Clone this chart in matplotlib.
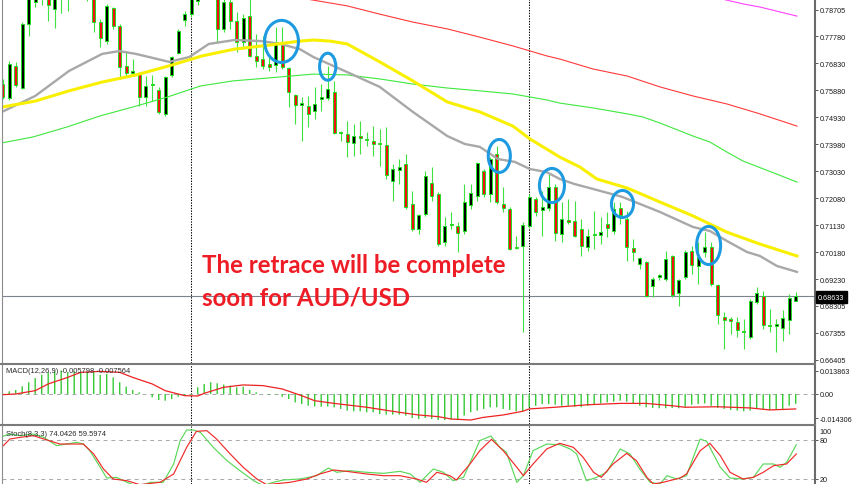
import numpy as np
import matplotlib
matplotlib.use('Agg')
import matplotlib.pyplot as plt
from matplotlib.patches import Ellipse
from matplotlib.lines import Line2D

plt.rcParams['font.family'] = ['Liberation Sans', 'DejaVu Sans']

# weekly AUD/USD candles, index 0 = first visible week
open_ = [0.7610, 0.7561, 0.7673, 0.7596, 0.7821, 0.7899, 0.7944, 0.7980, 0.7874, 0.7944,
         0.7927, 0.7962, 0.7997, 0.7944, 0.7927, 0.7828, 0.7761, 0.7878, 0.7814, 0.7673,
         0.7649, 0.7645, 0.7564, 0.7610, 0.7589, 0.7505, 0.7642, 0.7719, 0.7835, 0.7856,
         0.7902, 0.7997, 0.8068, 0.7927, 0.7804, 0.7899, 0.7832, 0.7758, 0.7849, 0.7709,
         0.7698, 0.7681, 0.7677, 0.7758, 0.7666, 0.7571, 0.7536, 0.7533, 0.7515, 0.7557,
         0.7561, 0.7582, 0.7437, 0.7434, 0.7403, 0.7427, 0.7417, 0.7410, 0.7403, 0.7396,
         0.7269, 0.7308, 0.7329, 0.7188, 0.7100, 0.7153, 0.7262, 0.7223, 0.7054, 0.7114,
         0.7110, 0.7093, 0.7184, 0.7216, 0.7304, 0.7223, 0.7364, 0.7188, 0.7170, 0.7037,
         0.7040, 0.7110, 0.7205, 0.7167, 0.7174, 0.7248, 0.7082, 0.7132, 0.7128, 0.7100,
         0.7037, 0.7079, 0.7079, 0.7118, 0.7093, 0.7174, 0.7135, 0.7033, 0.6977, 0.6984,
         0.6899, 0.6931, 0.6924, 0.7005, 0.6875, 0.6931, 0.7023, 0.6970, 0.7019, 0.7037,
         0.6903, 0.6790, 0.6783, 0.6773, 0.6738, 0.6720, 0.6843, 0.6864, 0.6762, 0.6759,
         0.6752, 0.6780, 0.6847]
high = [0.7628, 0.7691, 0.7688, 0.7828, 0.7944, 0.7962, 0.8015, 0.7997, 0.7951, 0.7980,
        0.7997, 0.8015, 0.8032, 0.7980, 0.7937, 0.7839, 0.7892, 0.7881, 0.7821, 0.7726,
        0.7698, 0.7652, 0.7638, 0.7642, 0.7600, 0.7638, 0.7709, 0.7804, 0.7867, 0.7951,
        0.8015, 0.8103, 0.8120, 0.7937, 0.7916, 0.7909, 0.7864, 0.7856, 0.7916, 0.7786,
        0.7779, 0.7705, 0.7811, 0.7811, 0.7670, 0.7575, 0.7564, 0.7568, 0.7600, 0.7610,
        0.7673, 0.7621, 0.7445, 0.7480, 0.7469, 0.7480, 0.7441, 0.7462, 0.7452, 0.7459,
        0.7329, 0.7346, 0.7364, 0.7234, 0.7153, 0.7304, 0.7318, 0.7230, 0.7142, 0.7160,
        0.7125, 0.7258, 0.7258, 0.7336, 0.7311, 0.7353, 0.7392, 0.7248, 0.7177, 0.7075,
        0.7125, 0.7223, 0.7213, 0.7234, 0.7293, 0.7258, 0.7195, 0.7205, 0.7198, 0.7135,
        0.7100, 0.7163, 0.7142, 0.7160, 0.7195, 0.7195, 0.7163, 0.7065, 0.7001, 0.6987,
        0.6931, 0.6942, 0.7023, 0.7008, 0.6924, 0.7026, 0.7040, 0.7054, 0.7089, 0.7054,
        0.6906, 0.6808, 0.6790, 0.6790, 0.6783, 0.6854, 0.6896, 0.6882, 0.6818, 0.6783,
        0.6815, 0.6871, 0.6878]
low = [0.7557, 0.7554, 0.7600, 0.7593, 0.7779, 0.7881, 0.7888, 0.7832, 0.7807, 0.7860,
       0.7867, 0.7927, 0.7927, 0.7902, 0.7793, 0.7740, 0.7751, 0.7804, 0.7628, 0.7638,
       0.7638, 0.7533, 0.7533, 0.7550, 0.7505, 0.7498, 0.7635, 0.7716, 0.7814, 0.7846,
       0.7888, 0.7980, 0.7927, 0.7758, 0.7793, 0.7804, 0.7723, 0.7733, 0.7705, 0.7670,
       0.7663, 0.7656, 0.7652, 0.7663, 0.7529, 0.7469, 0.7410, 0.7459, 0.7487, 0.7515,
       0.7554, 0.7434, 0.7410, 0.7353, 0.7357, 0.7364, 0.7392, 0.7357, 0.7322, 0.7276,
       0.7198, 0.7258, 0.7170, 0.7093, 0.7082, 0.7146, 0.7198, 0.7040, 0.7040, 0.7100,
       0.7019, 0.7082, 0.7170, 0.7198, 0.7213, 0.7195, 0.7188, 0.7160, 0.7026, 0.7030,
       0.6738, 0.7103, 0.7146, 0.7075, 0.7163, 0.7058, 0.7054, 0.7118, 0.7072, 0.7005,
       0.7023, 0.7030, 0.7047, 0.7072, 0.7082, 0.7118, 0.6987, 0.6987, 0.6959, 0.6861,
       0.6861, 0.6920, 0.6917, 0.6861, 0.6829, 0.6924, 0.6942, 0.6906, 0.7001, 0.6899,
       0.6766, 0.6678, 0.6731, 0.6720, 0.6678, 0.6713, 0.6836, 0.6748, 0.6738, 0.6667,
       0.6706, 0.6731, 0.6847]
close = [0.7564, 0.7681, 0.7607, 0.7821, 0.7927, 0.7944, 0.7980, 0.7888, 0.7944, 0.7927,
         0.7962, 0.7997, 0.7944, 0.7927, 0.7828, 0.7772, 0.7885, 0.7814, 0.7670, 0.7649,
         0.7656, 0.7564, 0.7603, 0.7607, 0.7512, 0.7635, 0.7705, 0.7797, 0.7856, 0.7927,
         0.7997, 0.8068, 0.7937, 0.7804, 0.7899, 0.7832, 0.7758, 0.7842, 0.7709, 0.7691,
         0.7673, 0.7670, 0.7758, 0.7670, 0.7582, 0.7536, 0.7543, 0.7505, 0.7540, 0.7564,
         0.7593, 0.7437, 0.7441, 0.7406, 0.7427, 0.7420, 0.7413, 0.7399, 0.7399, 0.7290,
         0.7311, 0.7318, 0.7177, 0.7100, 0.7149, 0.7286, 0.7216, 0.7047, 0.7110, 0.7118,
         0.7086, 0.7195, 0.7227, 0.7332, 0.7223, 0.7346, 0.7195, 0.7174, 0.7030, 0.7033,
         0.7114, 0.7213, 0.7160, 0.7177, 0.7248, 0.7086, 0.7135, 0.7125, 0.7075, 0.7040,
         0.7075, 0.7082, 0.7089, 0.7103, 0.7170, 0.7149, 0.7037, 0.7019, 0.6998, 0.6864,
         0.6924, 0.6938, 0.6994, 0.6868, 0.6920, 0.7019, 0.6973, 0.7001, 0.7037, 0.6906,
         0.6797, 0.6780, 0.6776, 0.6745, 0.6741, 0.6847, 0.6875, 0.6762, 0.6759, 0.6766,
         0.6787, 0.6857, 0.6863]

# moving averages, read at a few candle positions
gray_x = [-0.1, 5.0, 10.2, 15.3, 17.9, 20.5, 25.6, 28.7, 31.7, 35.7, 39.9, 42.7, 45.7, 47.8,
          53.0, 58.0, 63.1, 68.4, 71.1, 73.4, 76.2, 78.8, 81.1, 83.7, 85.7, 88.0, 90.8, 95.3,
          101.1, 106.2, 108.8, 111.4, 114.5, 116.5, 119.1, 122.2]
gray_ma = [0.7512, 0.7568, 0.7656, 0.7716, 0.7726, 0.7716, 0.7688, 0.7705, 0.7751, 0.7765,
           0.7761, 0.7751, 0.7733, 0.7705, 0.7652, 0.7600, 0.7512, 0.7427, 0.7399, 0.7389,
           0.7346, 0.7336, 0.7311, 0.7300, 0.7276, 0.7258, 0.7241, 0.7213, 0.7160, 0.7107,
           0.7093, 0.7058, 0.7019, 0.7005, 0.6970, 0.6949]
yel_x = [-0.1, 5.0, 10.2, 15.3, 20.5, 25.6, 30.7, 35.7, 41.0, 45.7, 47.8, 50.4, 53.0, 58.0,
         63.1, 68.4, 73.4, 78.5, 81.1, 83.7, 85.7, 88.8, 91.4, 96.1, 101.1, 106.2, 111.4,
         116.5, 122.2]
yel_ma = [0.7529, 0.7550, 0.7586, 0.7617, 0.7642, 0.7674, 0.7709, 0.7733, 0.7747, 0.7761,
          0.7765, 0.7761, 0.7751, 0.7688, 0.7621, 0.7547, 0.7512, 0.7462, 0.7417, 0.7381,
          0.7353, 0.7318, 0.7276, 0.7244, 0.7195, 0.7146, 0.7089, 0.7047, 0.7005]
grn_x = [-0.1, 4.7, 9.9, 15.0, 20.0, 25.3, 30.4, 35.4, 40.7, 44.2, 47.8, 53.0, 58.0, 63.1,
         68.4, 73.4, 78.5, 83.7, 85.7, 90.8, 96.1, 98.5, 101.1, 106.2, 108.8, 111.4, 113.9,
         119.1, 122.2]
grn_ma = [0.7403, 0.7424, 0.7459, 0.7498, 0.7529, 0.7564, 0.7603, 0.7621, 0.7631, 0.7638,
          0.7645, 0.7642, 0.7628, 0.7610, 0.7596, 0.7586, 0.7575, 0.7554, 0.7543, 0.7526,
          0.7505, 0.7494, 0.7473, 0.7427, 0.7406, 0.7371, 0.7339, 0.7293, 0.7265]
red_x = [44.0, 46.8, 53.0, 58.0, 63.1, 68.4, 73.4, 78.5, 83.7, 85.7, 90.8, 96.1, 101.1,
         106.2, 111.4, 116.5, 122.2]
red_ma = [0.7921, 0.7909, 0.7885, 0.7856, 0.7828, 0.7804, 0.7775, 0.7744, 0.7709, 0.7698,
          0.7663, 0.7638, 0.7600, 0.7568, 0.7540, 0.7505, 0.7462]
mag_x = [108.8, 110.7, 113.9, 116.5, 122.2]
mag_ma = [0.7920, 0.7909, 0.7892, 0.7881, 0.7849]

# MACD(12,26,9)
macd_hist = [0.0004, 0.0016, 0.0024, 0.0046, 0.0070, 0.0095, 0.0115, 0.0127, 0.0135, 0.0139,
             0.0129, 0.0135, 0.0131, 0.0133, 0.0129, 0.0115, 0.0119, 0.0099, 0.0070, 0.0044,
             0.0024, 0.0010, 0.0000, -0.0020, -0.0036, -0.0040, -0.0030, -0.0016, -0.0010, -0.0004,
             0.0040, 0.0060, 0.0070, 0.0064, 0.0056, 0.0050, 0.0040, 0.0044, 0.0024, 0.0010,
             0.0000, -0.0004, -0.0004, -0.0016, -0.0030, -0.0050, -0.0060, -0.0070, -0.0074, -0.0076,
             -0.0074, -0.0080, -0.0089, -0.0099, -0.0103, -0.0103, -0.0109, -0.0109, -0.0119, -0.0123,
             -0.0123, -0.0123, -0.0129, -0.0143, -0.0149, -0.0143, -0.0149, -0.0155, -0.0155, -0.0151,
             -0.0149, -0.0129, -0.0109, -0.0099, -0.0089, -0.0079, -0.0079, -0.0089, -0.0095, -0.0103,
             -0.0103, -0.0079, -0.0070, -0.0060, -0.0060, -0.0064, -0.0070, -0.0070, -0.0076, -0.0079,
             -0.0070, -0.0060, -0.0056, -0.0050, -0.0046, -0.0040, -0.0046, -0.0056, -0.0070, -0.0079,
             -0.0083, -0.0085, -0.0085, -0.0083, -0.0085, -0.0076, -0.0064, -0.0060, -0.0056, -0.0070,
             -0.0083, -0.0089, -0.0095, -0.0099, -0.0103, -0.0099, -0.0089, -0.0089, -0.0095, -0.0093,
             -0.0089, -0.0070, -0.0058]
sig_x = [0, 2, 5, 7, 10, 12, 15, 18, 20, 23, 25, 28, 30, 31, 34, 37, 40, 43, 46, 48, 51, 56,
         61, 64, 67, 69, 72, 74, 77, 80, 81, 85, 90, 95, 99, 103, 105, 110, 115, 118, 122]
macd_sig = [-0.0004, 0.0000, 0.0020, 0.0060, 0.0099, 0.0129, 0.0135, 0.0129, 0.0099, 0.0060,
            0.0020, -0.0010, -0.0012, 0.0004, 0.0040, 0.0054, 0.0050, 0.0030, -0.0010, -0.0040,
            -0.0056, -0.0079, -0.0109, -0.0125, -0.0135, -0.0149, -0.0155, -0.0139, -0.0125,
            -0.0103, -0.0089, -0.0079, -0.0064, -0.0056, -0.0056, -0.0070, -0.0079, -0.0076,
            -0.0083, -0.0095, -0.0089]

# Stochastic(8,3,3)
st_x = [-0.4, 1.1, 2.7, 4.7, 6.3, 8.3, 9.8, 11.4, 12.4, 13.4, 15.0, 16.0, 17.5, 19.1, 20.9,
        22.7, 24.7, 26.3, 27.3, 28.3, 29.3, 30.4, 32.4, 34.5, 36.5, 38.6, 40.1, 41.6, 43.2,
        45.7, 48.3, 50.1, 51.4, 53.4, 56.0, 58.6, 61.1, 62.7, 64.2, 66.25, 67.8, 69.3, 70.9,
        73.4, 75.1, 76.5, 77.5, 79.1, 80.1, 81.6, 83.7, 85.7, 87.3, 88.3, 89.8, 91.4, 92.9,
        95.0, 96.5, 98.0, 99.6, 101.1, 102.2, 103.7, 105.2, 107.3, 108.3, 110.4, 111.9, 113.9,
        115.5, 117.0, 118.6, 119.6, 120.6, 122.1]
stoch_main = [84.1, 89.2, 86.7, 89.2, 84.1, 71.3, 73.8, 76.4, 73.8, 63.6, 38.0, 21.5, 22.6,
              14.9, 8.2, 14.9, 14.9, 43.1, 79.0, 95.4, 95.4, 91.8, 68.7, 48.2, 32.8, 17.4, 9.7,
              14.9, 18.5, 20.0, 25.1, 36.9, 30.3, 32.8, 30.3, 28.7, 31.8, 27.7, 14.9, 35.4, 30.3,
              17.4, 22.6, 79.0, 86.2, 68.7, 61.0, 14.9, 25.1, 63.6, 73.8, 72.8, 66.2, 58.5, 17.4,
              22.6, 30.3, 66.2, 58.5, 35.4, 14.9, 12.3, 25.1, 20.0, 25.1, 81.5, 78.0, 38.0, 21.5,
              20.0, 22.6, 43.1, 43.1, 38.0, 45.6, 72.8]
ss_x = [-0.4, 1.1, 2.7, 4.7, 6.8, 8.8, 10.9, 12.4, 14.0, 15.5, 17.0, 19.1, 21.1, 24.2, 26.3,
        28.3, 29.8, 31.4, 32.9, 35.0, 37.0, 39.1, 40.6, 44.2, 46.8, 48.8, 50.9, 52.9, 56.0,
        58.6, 61.1, 63.7, 65.2, 66.8, 68.8, 69.8, 71.9, 73.4, 75.2, 77.0, 79.1, 80.1, 81.6,
        83.7, 85.7, 87.8, 89.3, 90.9, 92.1, 93.9, 96.0, 97.5, 99.1, 100.1, 101.6, 104.2, 105.2,
        107.3, 108.8, 110.4, 111.9, 113.9, 115.5, 117.0, 118.6, 120.6, 122.1]
stoch_sig = [66.2, 81.5, 84.1, 86.7, 80.0, 73.8, 73.8, 73.8, 58.5, 35.4, 20.0, 17.4, 11.3,
             14.9, 27.7, 68.7, 93.3, 94.4, 81.5, 58.5, 38.0, 20.0, 11.3, 14.9, 20.0, 27.7, 33.8,
             31.8, 27.7, 25.1, 25.1, 20.0, 14.9, 30.3, 25.1, 18.5, 43.1, 63.6, 81.0, 63.6, 38.0,
             25.1, 43.1, 66.2, 74.9, 68.7, 53.3, 30.3, 22.6, 43.1, 59.5, 48.2, 22.6, 12.3, 14.9,
             21.5, 27.7, 63.6, 74.9, 55.9, 30.3, 20.0, 22.6, 30.3, 40.5, 43.1, 58.5]

price_ticks = [0.78705, 0.77780, 0.76830, 0.75880, 0.74930, 0.73980, 0.73030, 0.72080,
               0.71130, 0.70180, 0.69230, 0.68305, 0.67355, 0.66405]
last_price = 0.68633
year_breaks = [29, 81]
# blue rings drawn on the chart: candle index, price, width (candles), height (price)
rings = [(42.9, 0.7760, 5.2, 0.0148), (50.0, 0.7671, 2.5, 0.0095),
         (76.4, 0.7357, 3.4, 0.0116), (84.5, 0.7253, 3.85, 0.0120),
         (95.35, 0.7188, 3.4, 0.0095), (108.6, 0.7042, 3.7, 0.0134)]

W, H = 852, 485
LABEL_FS = 5.2


def rect(x0, y0, x1, y1):
    return [x0 / W, 1 - y1 / H, (x1 - x0) / W, (y1 - y0) / H]


fig = plt.figure(figsize=(W / 100, H / 100), dpi=100, facecolor='white')
ax = fig.add_axes(rect(2, 0, 815, 364))
axm = fig.add_axes(rect(2, 366, 815, 424.5))
axs = fig.add_axes(rect(2, 426.5, 815, 485))

xlim = (-0.108, 124.97)
for a in (ax, axm, axs):
    a.set_xlim(*xlim)
    a.set_xticks([])
    for s in a.spines.values():
        s.set_visible(False)
    a.yaxis.tick_right()
    a.tick_params(axis='y', direction='out', length=2, width=0.7, color='#555555',
                  labelsize=LABEL_FS, labelcolor='#1a1a1a', pad=1.3)
    for b in year_breaks:
        a.axvline(b, color='black', lw=0.75, ls=(0, (1.3, 1.3)), zorder=1)

# main price panel
ax.set_ylim(0.66285, 0.79092)
idx = np.arange(len(close))
o = np.array(open_); c = np.array(close)
up = c >= o
lo = np.minimum(o, c)
hgt = np.maximum(np.abs(c - o), 0.00012)
ax.vlines(idx, low, high, color='#3fe03f', lw=0.8, zorder=2)
ax.bar(idx, hgt, bottom=lo, width=0.5, color=np.where(up, 'black', '#f01212'),
       edgecolor='#22dd22', linewidth=0.7, zorder=3)

ax.plot(mag_x, mag_ma, color='#ff40ff', lw=0.8, zorder=4)
ax.plot(red_x, red_ma, color='#ff3a3a', lw=0.8, zorder=4)
ax.plot(grn_x, grn_ma, color='#3ee83e', lw=0.8, zorder=4)
ax.plot(gray_x, gray_ma, color='#a8a8a8', lw=1.7, zorder=4)
ax.plot(yel_x, yel_ma, color='#f8f000', lw=2.2, zorder=4)
ax.axhline(last_price, color='#7d8391', lw=0.8, zorder=1)

ax.set_yticks(price_ticks)
ax.set_yticklabels(['%.5f' % p for p in price_ticks])

for cx, cy, w, h in rings:
    ax.add_patch(Ellipse((cx, cy), w, h, fill=False, ec='#1e9ae0', lw=2.2, zorder=6))

# MACD panel
axm.set_ylim(-0.017582, 0.017284)
axm.vlines(idx, 0, macd_hist, color='#36c936', lw=1.0, zorder=2, snap=False)
axm.plot(sig_x, macd_sig, color='#ee2222', lw=0.9, zorder=3)
axm.axhline(0, color='#a8a8a8', lw=0.7, ls=(0, (4, 4)), zorder=1)
axm.set_yticks([0.013863, 0.0, -0.014306])
axm.set_yticklabels(['0.013863', '0.00', '-0.014306'])

# Stochastic panel
axs.set_ylim(12.3, 102.3)
axs.plot(st_x, stoch_main, color='#5ad85a', lw=0.85, zorder=3)
axs.plot(ss_x, stoch_sig, color='#f02a2a', lw=0.85, zorder=3)
for lvl in (80, 20):
    axs.axhline(lvl, color='#a8a8a8', lw=0.7, ls=(0, (4, 4)), zorder=1)
axs.set_yticks([80, 20])
axs.set_yticklabels(['80', '20'])
fig.text(819 / W, 1 - 433 / H, '100', fontsize=LABEL_FS, color='#1a1a1a', va='center')

# frame lines
fig.add_artist(Line2D([815 / W] * 2, [0, 1], color='#6a6a6a', lw=1.5))
fig.add_artist(Line2D([2 / W] * 2, [0, 1], color='#8c8c8c', lw=0.8))
for yy in (365, 425.5):
    fig.add_artist(Line2D([0, 815 / W], [1 - yy / H] * 2, color='#7a7a7a', lw=1.5))

fig.text(818 / W, 1 - 298 / H, '%.5f' % last_price, fontsize=LABEL_FS, color='white',
         va='center', ha='left',
         bbox=dict(boxstyle='square,pad=0.3', fc='black', ec='black'))

fig.text(6 / W, 1 - 371.5 / H, 'MACD(12,26,9) -0.005798 -0.007564', fontsize=5.4,
         color='#2a2a2a', va='center')
fig.text(6 / W, 1 - 435 / H, 'Stoch(8,3,3) 74.0426 59.5974', fontsize=5.4,
         color='#2a2a2a', va='center')

# annotation text
t1 = fig.text(202 / W, 1 - 272.7 / H, 'The retrace will be complete', fontsize=15,
              fontfamily='Lato', fontweight='bold', color='#ee1c25', va='baseline')
t2 = fig.text(202 / W, 1 - 305 / H, 'soon for AUD/USD', fontsize=15,
              fontfamily='Lato', fontweight='bold', color='#ee1c25', va='baseline')
fig.canvas.draw()
w1 = t1.get_window_extent().width
fs = 15 * 305 / w1
t1.set_fontsize(fs)
t2.set_fontsize(fs)

fig.savefig('out.png', dpi=100)
